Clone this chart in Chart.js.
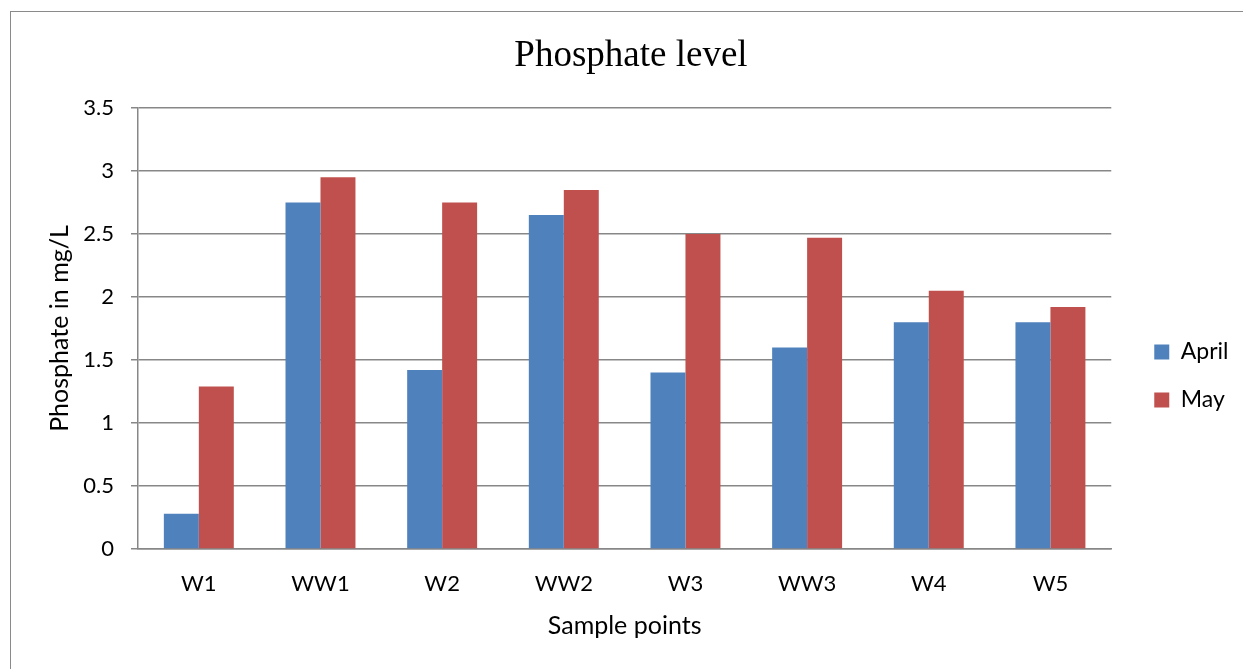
<!DOCTYPE html>
<html>
<head>
<meta charset="utf-8">
<title>Phosphate level</title>
<script src="https://cdn.jsdelivr.net/npm/chart.js@4.4.1/dist/chart.umd.min.js"></script>
<style>
  html, body { margin: 0; padding: 0; background: #fff; overflow: hidden; }
  #wrap { position: relative; width: 1243px; height: 669px; }
  /* outer chart frame, runs off the right and bottom edges */
  #frame {
    position: absolute; left: 10px; top: 11px;
    width: 1300px; height: 700px;
    border: 1.5px solid #8a8a8a;
  }
  #chart { position: absolute; left: 0; top: 0; }
</style>
</head>
<body>
<div id="wrap">
  <div id="frame"></div>
  <canvas id="chart" width="1243" height="669"></canvas>
</div>
<script>
/* =========================================
   DATA
========================================= */
const samplePoints = ["W1", "WW1", "W2", "WW2", "W3", "WW3", "W4", "W5"];
const aprilValues = [0.28, 2.75, 1.42, 2.65, 1.40, 1.60, 1.80, 1.80];
const mayValues = [1.29, 2.95, 2.75, 2.85, 2.50, 2.47, 2.05, 1.92];
const yTicks = [0, 0.5, 1, 1.5, 2, 2.5, 3, 3.5];

const GRID = "#878787";
const TEXT = "#000";
const SANS = "Lato, 'Open Sans', sans-serif";

/* =========================================
   BAR CHART
========================================= */
new Chart(document.getElementById("chart"), {
  type: "bar",
  data: {
    labels: samplePoints,
    datasets: [
      { label: "April", data: aprilValues, backgroundColor: "#4f81bd" },
      { label: "May", data: mayValues, backgroundColor: "#c0504d" }
    ]
  },
  options: {
    responsive: false,
    animation: false,
    layout: { padding: { left: 23.5, right: 4.5, top: 0, bottom: 0 } },
    datasets: {
      bar: { categoryPercentage: 0.575, barPercentage: 1.0, borderWidth: 0 }
    },
    scales: {
      x: {
        grid: { display: false, drawTicks: false },
        border: { display: true, color: GRID, width: 1.5 },
        ticks: { color: TEXT, font: { family: SANS, size: 22 }, padding: 22, maxRotation: 0 },
        title: {
          display: true, text: "Sample points", color: TEXT,
          font: { family: SANS, size: 25 }, padding: { top: 0, bottom: 28 }
        },
        afterFit: s => { s.height = 120; }
      },
      y: {
        min: 0,
        max: 3.5,
        afterBuildTicks: s => { s.ticks = yTicks.map(v => ({ value: v })); },
        grid: { color: GRID, lineWidth: 1.5, tickLength: 7 },
        border: { display: true, color: GRID, width: 1.5 },
        ticks: {
          color: TEXT, font: { family: SANS, size: 22 }, padding: 17,
          callback: v => String(v)
        },
        title: {
          display: true, text: "Phosphate in mg/L", color: TEXT,
          font: { family: SANS, size: 25 }, padding: { top: 21.5, bottom: 0 }
        },
        afterFit: s => { s.width = 114.5; }
      },
      // empty right-hand axis, only keeps the legend clear of the plot
      gap: {
        type: "linear",
        position: "right",
        display: true,
        grid: { display: false },
        border: { display: false },
        ticks: { display: false },
        afterFit: s => { s.width = 18; }
      }
    },
    plugins: {
      title: {
        display: true,
        text: "Phosphate level",
        color: TEXT,
        font: { family: "'Liberation Serif', 'Times New Roman', serif", size: 37, weight: "normal" },
        padding: { top: 33.8, bottom: 29.8 }
      },
      legend: {
        position: "right",
        title: { display: true, text: "", font: { size: 12 }, padding: { top: 68.6, bottom: 0 } },
        labels: {
          color: TEXT,
          font: { family: SANS, size: 23 },
          boxWidth: 15,
          boxHeight: 15,
          padding: 25
        }
      },
      tooltip: { enabled: false }
    }
  }
});
</script>
</body>
</html>
